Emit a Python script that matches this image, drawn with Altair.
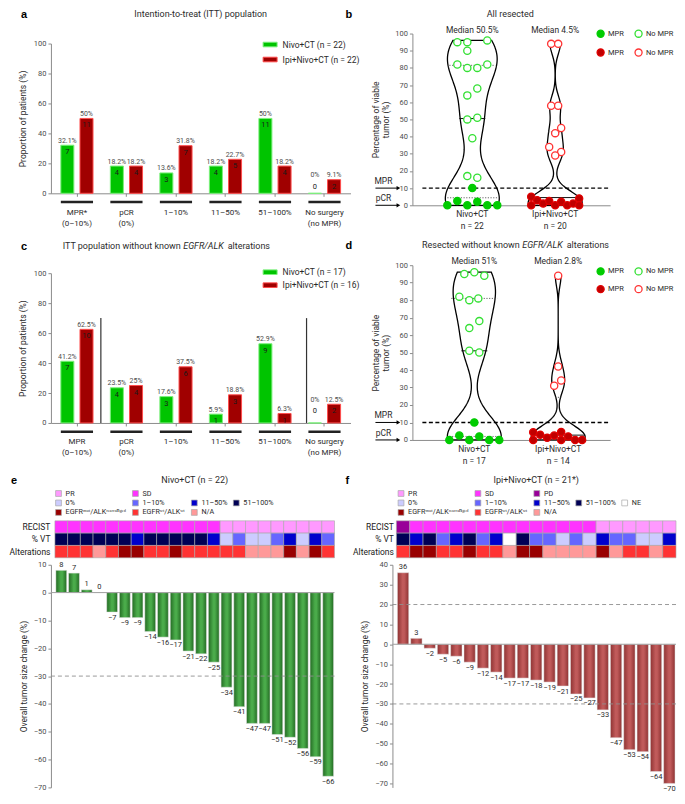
import altair as alt
import pandas as pd

FONT = "Roboto"
BOLD_FONT = "Liberation Sans"
INK = "#2b2b2b"
TICK_TXT = "#4d4d4d"
AXC = "#8c8c8c"

NIVO_FILL, NIVO_EDGE = "#00c400", "#7cf07c"
IPI_FILL, IPI_EDGE = "#a00000", "#ff4d4d"

# ---------------- panels a / c : response categories ----------------
a_cats = ["MPR*|(0–10%)", "pCR|(0%)", "1–10%", "11–50%", "51–100%", "No surgery|(no MPR)"]
c_cats = ["MPR|(0–10%)", "pCR|(0%)", "1–10%", "11–50%", "51–100%", "No surgery|(no MPR)"]
a_groups = ["Nivo+CT (n = 22)", "Ipi+Nivo+CT (n = 22)"]
a_nivo_pct = [32.1, 18.2, 13.6, 18.2, 50, 0]
a_nivo_n = [7, 4, 3, 4, 11, 0]
a_ipi_pct = [50, 18.2, 31.8, 22.7, 18.2, 9.1]
a_ipi_n = [11, 4, 7, 5, 4, 2]
c_groups = ["Nivo+CT (n = 17)", "Ipi+Nivo+CT (n = 16)"]
c_nivo_pct = [41.2, 23.5, 17.6, 5.9, 52.9, 0]
c_nivo_n = [7, 4, 3, 1, 9, 0]
c_ipi_pct = [62.5, 25, 37.5, 18.8, 6.3, 12.5]
c_ipi_n = [10, 4, 6, 3, 1, 2]

# ---------------- panels b / d : % viable tumour per patient ----------------
b_nivo_v = [95, 95, 96, 90, 82, 80, 80, 82, 68, 64, 50, 51, 39, 17, 16, 10, 2.5, 2, 0, 0, 0, 0]
b_nivo_jit = [-15, -5, 15, -5, -15, -5, 5, 15, 5, -5, -5, 5, 0, -5, 5, 0, -15, 5, -25, -5, 15, 25]
b_ipi_v = [94, 94, 58, 58, 42, 45, 34, 31, 29, 5, 3, 1, 2.5, 0, 2, 0, 1, 4, 0, 0]
b_ipi_jit = [-4, 3, -4, 3, 0, 6, -6, 6, 0, -24, -18, -12, -6, 0, 6, 12, 18, 24, -24, 24]
d_nivo_v = [95, 96, 94, 82, 80, 81, 64, 68, 51, 50, 10, 2.5, 2, 0, 0, 0, 0]
d_nivo_jit = [-10, 0, 10, -15, -5, 4, -5, 5, -5, 5, 0, -15, 5, -25, -5, 15, 25]
d_ipi_v = [94, 42, 31, 34, 4.4, 3, 1.2, 2.5, 4.6, 2, 0, 0, 0, 0]
d_ipi_jit = [0, 0, -4, 3, -25, -18, -11, -4, 3, 10, 17, 24, -25, 3]
thresholds = {"lab": ["MPR", "pCR"], "v": [10, 0]}

# ---------------- panels e / f : heat strips + waterfall ----------------
V0, V1, V2, V3, NE = "0%", "1–10%", "11–50%", "51–100%", "NE"
MUT, WT, NA = "EGFRᵐᵘᵗ/ALKʳᵉᵃʳʳᵃⁿᵍᵉᵈ", "EGFRʷᵗ/ALKʷᵗ", "N/A"
e_recist = ["SD", "SD", "SD", "SD", "SD", "SD", "SD", "SD", "SD", "SD", "SD", "SD", "SD",
            "PR", "PR", "PR", "PR", "PR", "PR", "PR", "PR", "PR"]
e_vt = [V3, V3, V3, V3, V3, V3, V2, V3, V3, V3, V3, V3, V2, V0, V1, V0, V0, V1, V2, V0, V2, V1]
e_alt = [WT, WT, WT, NA, WT, MUT, MUT, WT, WT, MUT, WT, WT, WT, WT, WT, NA, NA, NA, MUT, NA, MUT, WT]
e_change = [8, 7, 1, 0, -7, -9, -9, -14, -16, -17, -21, -22, -25, -34, -41, -47, -47, -51, -52, -56, -59, -66]
f_recist = ["PD", "SD", "SD", "SD", "SD", "SD", "SD", "SD", "SD", "SD", "SD", "SD", "SD", "SD", "SD",
            "PR", "PR", "PR", "PR", "PR", "PR"]
f_vt = [V3, V2, V3, V1, V2, V3, V1, V2, NE, V3, V1, V1, V0, V1, V0, V2, V1, V1, V0, V0, V2]
f_alt = [WT, MUT, MUT, WT, WT, MUT, WT, WT, NA, MUT, MUT, NA, NA, NA, NA, MUT, NA, WT, WT, NA, WT]
f_change = [36, 3, -2, -5, -6, -9, -12, -14, -17, -17, -18, -19, -21, -25, -27, -33, -47, -53, -54, -64, -70]
e_dashes = [-30]
f_dashes = [20, -30]

CAT_COLORS = {"PR": "#ff99ff", "SD": "#ff33ff", "PD": "#990099",
              V0: "#ccccff", V1: "#6666ff", V2: "#0000cc", V3: "#000055", NE: "#ffffff",
              MUT: "#990000", WT: "#ff3333", NA: "#ff9999"}
HEAT_ROWS = ["RECIST", "% VT", "Alterations"]
NOVIEW = alt.ViewBackground(stroke=None, strokeWidth=0)


def text_layer(s, x, y, size=9, weight="normal", style="normal", align="center",
               baseline="middle", font=FONT, color=INK):
    return alt.Chart(pd.DataFrame({"t": [s]})).mark_text(
        fontSize=size, fontWeight=weight, fontStyle=style, align=align,
        baseline=baseline, font=font, color=color
    ).encode(text="t:N", x=alt.value(x), y=alt.value(y))


def letter(s, x, y):
    return text_layer(s, x, y, size=11, weight="bold", align="left", baseline="alphabetic",
                      font=BOLD_FONT, color="#000000")


def bar_panel(cats, groups, nivo_pct, nivo_n, ipi_pct, ipi_n, y0, y100, leg_y, leg_pad, seps=()):
    rows = []
    for g, ps, ns in ((groups[0], nivo_pct, nivo_n), (groups[1], ipi_pct, ipi_n)):
        for c, p, k in zip(cats, ps, ns):
            rows.append({"cat": c, "grp": g, "pct": p, "n": k})
    df = pd.DataFrame(rows)
    xs = alt.Scale(domain=cats, paddingInner=0.35, paddingOuter=0.2)
    ys = alt.Scale(domain=[0, 100], range=[y0, y100], nice=False)
    xax = alt.Axis(title=None, labelExpr="split(datum.label, '|')", labelAngle=0, labelPadding=12,
                   tickSize=3, tickColor=AXC, domainColor=AXC, labelFontSize=8, labelColor=INK,
                   labelLineHeight=11, labelOverlap=False)
    yax = alt.Axis(title="Proportion of patients (%)", values=[0, 20, 40, 60, 80, 100], tickSize=3,
                   tickColor=AXC, domainColor=AXC, labelFontSize=7.5, labelColor=TICK_TXT, grid=False,
                   titleFontSize=8.5, titleFontWeight="normal", titleColor=INK, titlePadding=6)
    X = alt.X("cat:N", scale=xs, sort=cats, axis=xax)
    XO = alt.XOffset("grp:N", sort=groups, scale=alt.Scale(domain=groups, paddingInner=0.32))
    leg = alt.Legend(title=None, orient="none", legendX=212, legendY=leg_y,
                     symbolType="M-1,-0.33H1V0.33H-1Z", symbolSize=196, symbolStrokeWidth=1,
                     labelFontSize=8.5, labelColor=INK, labelOffset=5, rowPadding=leg_pad, padding=0)
    fill = alt.Fill("grp:N", scale=alt.Scale(domain=groups, range=[NIVO_FILL, IPI_FILL]), legend=leg)
    stroke = alt.Stroke("grp:N", scale=alt.Scale(domain=groups, range=[NIVO_EDGE, IPI_EDGE]), legend=leg)
    base = alt.Chart(df).transform_joinaggregate(cmax="max(pct)", groupby=["cat"]).transform_calculate(
        ly="datum.pct > 0 ? datum.pct : datum.cmax",
        plab="format(datum.pct, '.1~f') + '%'")
    bars = base.mark_bar(strokeWidth=1).encode(
        x=X, xOffset=XO, y=alt.Y("pct:Q", scale=ys, axis=yax), fill=fill, stroke=stroke)
    LY = alt.Y("ly:Q", scale=ys, axis=yax)
    pct_t = base.mark_text(baseline="bottom", dy=-1.5, fontSize=7, color=TICK_TXT).encode(
        x=X, xOffset=XO, y=LY, text="plab:N")
    n_t = base.mark_text(baseline="middle", dy=7, fontSize=7.5, color="#1a1a1a").encode(
        x=X, xOffset=XO, y=LY, text="n:Q")
    under = alt.Chart(pd.DataFrame({"cat": cats})).mark_rect(color="#222222").encode(
        x=X, y=alt.value(y0 + 7.5), y2=alt.value(y0 + 10))
    layers = [bars, pct_t, n_t, under]
    for sx in seps:
        layers.append(alt.Chart(pd.DataFrame({"s": [0]})).mark_rule(color="#333333", strokeWidth=1.2).encode(
            x=alt.value(sx), y=alt.value(y0 - 0.7 * (y0 - y100)), y2=alt.value(y0)))
    return layers


def violin_panel(nv, nj, iv, ij, centers, H, bws, qw, leg_y, leg_pad):
    W = 198
    groups = ["Nivo+CT", "Ipi+Nivo+CT"]
    rows = []
    for g, vals, jits, pre in ((groups[0], nv, nj, "N"), (groups[1], iv, ij, "I")):
        for v, j in zip(vals, jits):
            rows.append({"grp": g, "v": v, "xp": centers[g] + j, "cx": centers[g],
                         "key": pre + ("-MPR" if v <= 10 else "-No")})
    df = pd.DataFrame(rows)
    xs = alt.Scale(domain=[0, W], nice=False, zero=False)
    ys = alt.Scale(domain=[0, 100], nice=False)
    xax = alt.Axis(title=None, labels=False, ticks=False, domainColor=AXC, grid=False)
    yax = alt.Axis(title=["Percentage of viable", "tumor (%)"], values=list(range(0, 101, 10)),
                   tickSize=3, tickColor=AXC, domainColor=AXC, labelFontSize=7.5, labelColor=TICK_TXT,
                   grid=False, titleFontSize=8.5, titleFontWeight="normal", titleColor=INK, titlePadding=4)
    Y = alt.Y("v:Q", scale=ys, axis=yax)
    layers = []
    for g in groups:
        top = max(r["v"] for r in rows if r["grp"] == g)
        cx = centers[g]
        layers.append(
            alt.Chart(df).transform_filter(alt.datum.grp == g)
            .transform_density("v", as_=["v", "dens"], bandwidth=bws[g], extent=[0, top], steps=160)
            .transform_joinaggregate(mx="max(dens)")
            .transform_calculate(xl=f"{cx} - datum.dens / datum.mx * 27",
                                 xr=f"{cx} + datum.dens / datum.mx * 27")
            .mark_area(orient="horizontal", fill="white", stroke="black", strokeWidth=1.3)
            .encode(y=Y, x=alt.X("xl:Q", scale=xs, axis=xax), x2="xr:Q"))
    thr = pd.DataFrame(thresholds)
    layers.append(alt.Chart(thr).transform_filter("datum.v > 0").mark_rule(
        strokeDash=[4, 2.5], strokeWidth=1.4, color="black").encode(y=Y, x=alt.value(10), x2=alt.value(W)))
    layers.append(alt.Chart(thr).mark_rule(color="black", strokeWidth=1).encode(
        y=Y, x=alt.value(-37), x2=alt.value(-15)))
    layers.append(alt.Chart(thr).mark_point(shape="triangle-right", filled=True, size=18, color="black",
                                            opacity=1).encode(y=Y, x=alt.value(-14)))
    layers.append(alt.Chart(thr).mark_text(fontSize=8.5, color=INK, dy=-7).encode(
        y=Y, x=alt.value(-29), text="lab:N"))
    q = alt.Chart(df).transform_aggregate(q1="q1(v)", q3="q3(v)", med="median(v)", groupby=["grp", "cx"])
    for fld, dash, col in (("q1", [1.2, 1.5], "#555555"), ("q3", [1.2, 1.5], "#555555"), ("med", [], "#111111")):
        wn, wi = qw[fld]
        qq = q.transform_calculate(
            xa=f"datum.cx - (datum.grp == 'Nivo+CT' ? {wn} : {wi})",
            xb=f"datum.cx + (datum.grp == 'Nivo+CT' ? {wn} : {wi})")
        mk = qq.mark_rule(color=col, strokeWidth=0.9, strokeDash=dash) if dash else qq.mark_rule(color=col, strokeWidth=1)
        layers.append(mk.encode(y=alt.Y(f"{fld}:Q", scale=ys, axis=yax),
                                x=alt.X("xa:Q", scale=xs, axis=xax), x2="xb:Q"))
    kdom = ["N-MPR", "N-No", "I-MPR", "I-No"]
    leg = alt.Legend(title=None, orient="none", legendX=184, legendY=leg_y, columns=2, direction="horizontal",
                     symbolType="circle", symbolSize=50, symbolStrokeWidth=1.3, symbolOpacity=1,
                     labelExpr="indexof(datum.label, 'No') >= 0 ? 'No MPR' : 'MPR'",
                     labelFontSize=7.5, labelColor=INK, columnPadding=8, rowPadding=leg_pad,
                     labelOffset=3, padding=0)
    layers.append(alt.Chart(df).mark_point(shape="circle", filled=True, size=52, strokeWidth=1.3,
                                           opacity=1).encode(
        x=alt.X("xp:Q", scale=xs, axis=xax), y=Y,
        fill=alt.Fill("key:N", scale=alt.Scale(domain=kdom, range=["#00cc00", "#ffffff", "#c00000", "#ffffff"]),
                      legend=leg),
        stroke=alt.Stroke("key:N", scale=alt.Scale(domain=kdom, range=["#00cc00", "#33e033", "#e00000", "#ff3333"]),
                          legend=leg)))
    agg = alt.Chart(df).transform_aggregate(med="median(v)", n="count()", groupby=["grp", "cx"]).transform_calculate(
        mlab="'Median ' + format(datum.med, '.1~f') + '%'",
        glab="datum.grp + '\\n' + 'n = ' + datum.n")
    layers.append(agg.mark_text(fontSize=8.5, color=INK, baseline="middle").encode(
        x=alt.X("cx:Q", scale=xs, axis=xax), y=alt.value(-4), text="mlab:N"))
    layers.append(agg.mark_text(fontSize=8.5, color=INK, baseline="top", lineBreak="\n", lineHeight=12).encode(
        x=alt.X("cx:Q", scale=xs, axis=xax), y=alt.value(H + 5), text="glab:N"))
    return layers


def heat_panel(recist, vt, alts, dom, xr, yb, ax_off, leg_x, leg_y, cols):
    rows = []
    for i in range(len(recist)):
        rows += [{"i": i, "row": "RECIST", "cat": recist[i]},
                 {"i": i, "row": "% VT", "cat": vt[i]},
                 {"i": i, "row": "Alterations", "cat": alts[i]}]
    df = pd.DataFrame(rows)
    rng = [CAT_COLORS.get(d, "rgba(0,0,0,0)") for d in dom]
    srng = ["#a8a8a8" if d in CAT_COLORS else "rgba(0,0,0,0)" for d in dom]
    leg = alt.Legend(title=None, orient="none", legendX=leg_x, legendY=leg_y, columns=cols,
                     direction="horizontal",
                     symbolType="square", symbolSize=34, symbolStrokeWidth=0.7, symbolOpacity=1,
                     labelExpr="substring(datum.label, 0, 1) == '_' ? '' : datum.label",
                     labelFontSize=7.2, labelColor=INK, columnPadding=4, rowPadding=0.5,
                     labelOffset=3.5, padding=0, labelLimit=300)
    return [alt.Chart(df).mark_rect(strokeWidth=0.6).encode(
        x=alt.X("i:O", scale=alt.Scale(range=xr, paddingInner=0, paddingOuter=0), axis=None),
        y=alt.Y("row:N", sort=HEAT_ROWS,
                scale=alt.Scale(domain=HEAT_ROWS, range=yb, paddingInner=0, paddingOuter=0),
                axis=alt.Axis(title=None, domain=False, ticks=False, labelPadding=1, offset=ax_off,
                              labelFontSize=8.5, labelColor="#222222")),
        fill=alt.Fill("cat:N", scale=alt.Scale(domain=dom, range=rng), legend=leg),
        stroke=alt.Stroke("cat:N", scale=alt.Scale(domain=dom, range=srng), legend=leg))]


def waterfall(vals, dom, ticks, xr, grad, dashes, ax_off, line_x):
    df = pd.DataFrame({"i": list(range(len(vals))), "v": vals})
    X = alt.X("i:O", scale=alt.Scale(range=xr, paddingInner=0.15, paddingOuter=0.075), axis=None)
    ys = alt.Scale(domain=dom, nice=False)
    yax = alt.Axis(title="Overall tumor size change (%)", values=ticks, offset=ax_off, tickSize=3,
                   tickColor=AXC, domainColor=AXC, labelFontSize=7.5, labelColor=TICK_TXT, grid=False,
                   titleFontSize=8.5, titleFontWeight="normal", titleColor=INK, titlePadding=5)
    Y = alt.Y("v:Q", scale=ys, axis=yax)
    bars = alt.Chart(df).mark_bar(color=grad, stroke="#e4e4e4", strokeWidth=0.5).encode(
        x=X, y=Y, y2=alt.datum(0))
    bt = alt.Chart(df).transform_calculate(lab="datum.v < 0 ? '−' + abs(datum.v) : '' + datum.v")
    tpos = bt.transform_filter("datum.v >= 0").mark_text(baseline="bottom", dy=-1.5, fontSize=7.5,
                                                         color=INK).encode(x=X, y=Y, text="lab:N")
    tneg = bt.transform_filter("datum.v < 0").mark_text(baseline="top", dy=1.5, fontSize=7.5,
                                                        color=INK).encode(x=X, y=Y, text="lab:N")
    zero = alt.Chart(pd.DataFrame({"v": [0]})).mark_rule(color="#a0a0a0", strokeWidth=1).encode(
        y=Y, x=alt.value(line_x[0]), x2=alt.value(line_x[1]))
    dash = alt.Chart(pd.DataFrame({"v": dashes})).mark_rule(color="#8f8f8f", strokeDash=[4, 3],
                                                            strokeWidth=0.9).encode(
        y=Y, x=alt.value(line_x[0]), x2=alt.value(line_x[1]))
    return [bars, zero, dash, tpos, tneg]


def grad(edge, mid):
    return alt.LinearGradient(gradient="linear", x1=0, x2=1, y1=0, y2=0, stops=[
        alt.GradientStop(color=edge, offset=0), alt.GradientStop(color=mid, offset=0.45),
        alt.GradientStop(color=mid, offset=0.6), alt.GradientStop(color=edge, offset=1)])


# ---------------- assemble panels ----------------
anchor = alt.Chart(pd.DataFrame({"a": [0]})).mark_rule(strokeOpacity=0, color="white").encode(
    x=alt.value(-42), x2=alt.value(-41), y=alt.value(-25), y2=alt.value(-24))

pa = alt.layer(*bar_panel(a_cats, a_groups, a_nivo_pct, a_nivo_n, a_ipi_pct, a_ipi_n, 160, 10, 3.5, 3),
               text_layer("Intention-to-treat (ITT) population", 150, -20),
               letter("a", -30, -16), anchor).properties(width=300, height=160, view=NOVIEW)

pb = alt.layer(*violin_panel(b_nivo_v, b_nivo_jit, b_ipi_v, b_ipi_jit, {"Nivo+CT": 60, "Ipi+Nivo+CT": 143}, 172,
                             {"Nivo+CT": 11, "Ipi+Nivo+CT": 6},
                             {"q1": (25, 26), "med": (13, 25), "q3": (23, 7)}, -4.5, 6),
               text_layer("All resected", 98, -20),
               letter("b", -67, -16)).properties(width=198, height=172, view=NOVIEW)

pc = alt.layer(*bar_panel(c_cats, c_groups, c_nivo_pct, c_nivo_n, c_ipi_pct, c_ipi_n, 158, 8, -0.5, 1,
                          seps=(50, 256)),
               text_layer("ITT population without known", 130, -19, align="right"),
               text_layer("EGFR/ALK", 132.5, -19, align="left", style="italic"),
               text_layer("alterations", 177, -19, align="left"),
               letter("c", -30, -15)).properties(width=300, height=158, view=NOVIEW)

pd_ = alt.layer(*violin_panel(d_nivo_v, d_nivo_jit, d_ipi_v, d_ipi_jit, {"Nivo+CT": 62, "Ipi+Nivo+CT": 146}, 175,
                              {"Nivo+CT": 11, "Ipi+Nivo+CT": 6},
                              {"q1": (25, 28), "med": (13, 27), "q3": (23, 3)}, 1.5, 5),
                text_layer("Resected without known", 107.5, -20, align="right"),
                text_layer("EGFR/ALK", 110, -20, align="left", style="italic"),
                text_layer("alterations", 154.5, -20, align="left"),
                letter("d", -67, -16)).properties(width=198, height=175, view=NOVIEW)

e_dom = ["PR", "SD", "_1", "_2", V0, V1, V2, V3, MUT, WT, NA, "_3"]
f_dom = ["PR", "SD", "PD", "_1", "_2", V0, V1, V2, V3, NE, MUT, WT, NA, "_3", "_4"]

peh = alt.layer(*heat_panel(e_recist, e_vt, e_alt, e_dom, [4, 284], [21, 58], 0, 4, -10, 4),
                text_layer("Nivo+CT (n = 22)", 144, -20),
                letter("e", -40, -16)).properties(width=284, height=5, view=NOVIEW)
pfh = alt.layer(*heat_panel(f_recist, f_vt, f_alt, f_dom, [-16, 264], [21, 58], 18, -15, -10, 5),
                text_layer("Ipi+Nivo+CT (n = 21*)", 124, -20),
                letter("f", -67, -16)).properties(width=264, height=5, view=NOVIEW)

pew = alt.layer(*waterfall(e_change, [-70, 10], list(range(-70, 11, 10)), [4, 284],
                           grad("#236b23", "#4aab4a"), e_dashes, 0, (0, 284))).properties(
    width=284, height=223, view=NOVIEW)
pfw = alt.layer(*waterfall(f_change, [-72, 40], list(range(-70, 41, 10)), [-16, 264],
                           grad("#8e3333", "#c05a5a"), f_dashes, 20, (-20, 264))).properties(
    width=264, height=223, view=NOVIEW)

chart = alt.concat(pa, pb, pc, pd_, peh, pfh, pew, pfw, columns=2,
                   spacing={"row": 60, "column": 62}, bounds="flush", align="each").resolve_scale(
    color="independent", fill="independent", stroke="independent", xOffset="independent"
).properties(padding=0).configure_view(stroke=None, strokeWidth=0).configure_legend(
    strokeColor=None).configure(font=FONT)

chart.save("out.html", embed_options={"renderer": "svg", "actions": False})
